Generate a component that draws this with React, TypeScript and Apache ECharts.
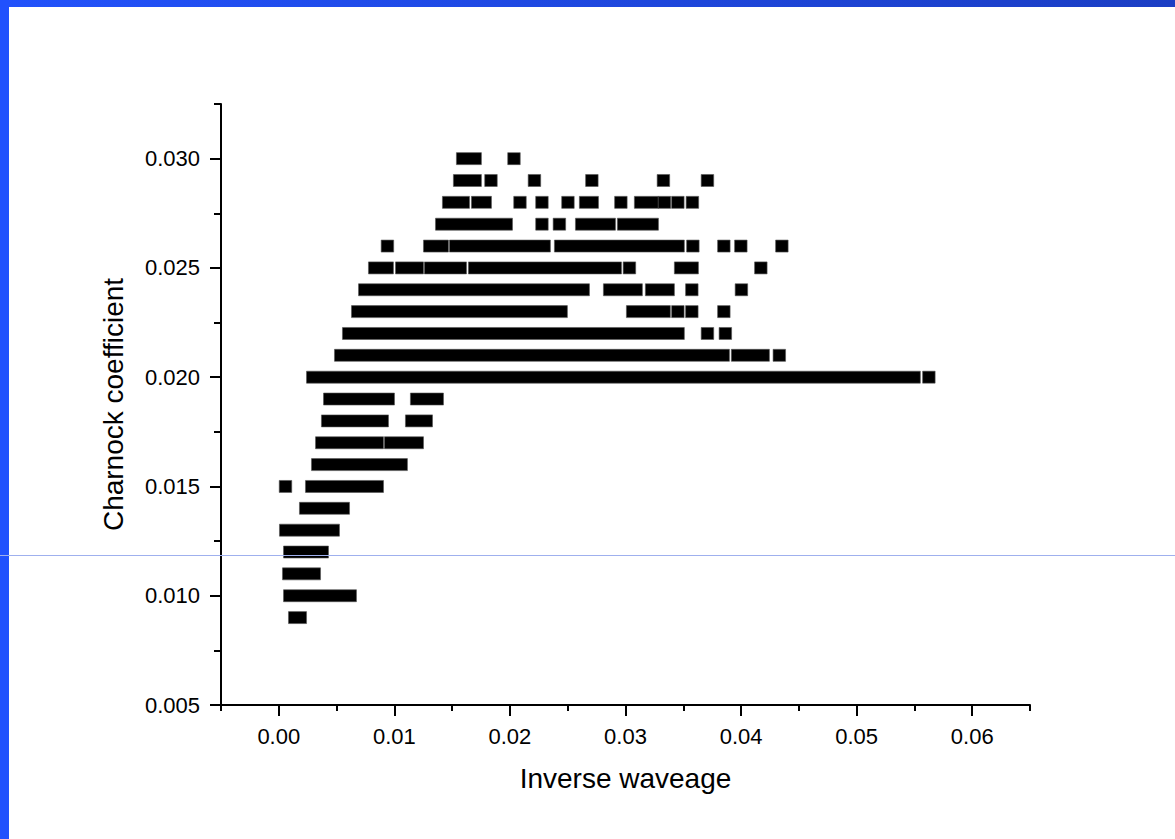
import React, { useEffect, useRef } from "react";
import * as echarts from "echarts";

// Each run: [charnock level, first square centre (inverse waveage), last square centre]
// A run is a stack of overlapping square markers on one Charnock level.
const runs: [number, number, number][] = [
  [0.030, 0.01591, 0.01699],
  [0.030, 0.02035, 0.02035],

  [0.029, 0.01565, 0.01699],
  [0.029, 0.01836, 0.01836],
  [0.029, 0.02212, 0.02212],
  [0.029, 0.02709, 0.02709],
  [0.029, 0.03328, 0.03328],
  [0.029, 0.03709, 0.03709],

  [0.028, 0.01470, 0.01596],
  [0.028, 0.01721, 0.01786],
  [0.028, 0.02087, 0.02087],
  [0.028, 0.02277, 0.02277],
  [0.028, 0.02502, 0.02502],
  [0.028, 0.02655, 0.02712],
  [0.028, 0.02960, 0.02960],
  [0.028, 0.03131, 0.03231],
  [0.028, 0.03337, 0.03337],
  [0.028, 0.03453, 0.03453],
  [0.028, 0.03579, 0.03579],

  [0.027, 0.01410, 0.01968],
  [0.027, 0.02277, 0.02277],
  [0.027, 0.02428, 0.02428],
  [0.027, 0.02621, 0.02859],
  [0.027, 0.02984, 0.03231],

  [0.026, 0.00940, 0.00940],
  [0.026, 0.01306, 0.01414],
  [0.026, 0.01531, 0.02296],
  [0.026, 0.02439, 0.03455],
  [0.026, 0.03583, 0.03583],
  [0.026, 0.03851, 0.03851],
  [0.026, 0.03998, 0.03998],
  [0.026, 0.04353, 0.04353],

  [0.025, 0.00830, 0.00938],
  [0.025, 0.01064, 0.01198],
  [0.025, 0.01314, 0.01570],
  [0.025, 0.01695, 0.02911],
  [0.025, 0.03034, 0.03034],
  [0.025, 0.03477, 0.03577],
  [0.025, 0.04171, 0.04171],

  [0.024, 0.00744, 0.02634],
  [0.024, 0.02863, 0.03092],
  [0.024, 0.03226, 0.03369],
  [0.024, 0.03574, 0.03574],
  [0.024, 0.04003, 0.04003],

  [0.023, 0.00683, 0.02443],
  [0.023, 0.03062, 0.03334],
  [0.023, 0.03453, 0.03453],
  [0.023, 0.03574, 0.03574],
  [0.023, 0.03851, 0.03851],

  [0.022, 0.00605, 0.03455],
  [0.022, 0.03709, 0.03709],
  [0.022, 0.03864, 0.03864],

  [0.021, 0.00536, 0.03845],
  [0.021, 0.03970, 0.04191],
  [0.021, 0.04331, 0.04331],

  [0.020, 0.00294, 0.05497],
  [0.020, 0.05625, 0.05625],

  [0.019, 0.00441, 0.00947],
  [0.019, 0.01193, 0.01371],

  [0.018, 0.00423, 0.00895],
  [0.018, 0.01150, 0.01276],

  [0.017, 0.00372, 0.00852],
  [0.017, 0.00968, 0.01198],

  [0.016, 0.00337, 0.01059],

  [0.015, 0.00058, 0.00058],
  [0.015, 0.00285, 0.00852],

  [0.014, 0.00233, 0.00558],

  [0.013, 0.00060, 0.00471],

  [0.012, 0.00095, 0.00376],

  [0.011, 0.00086, 0.00307],

  [0.010, 0.00095, 0.00618],

  [0.009, 0.00138, 0.00186],
];

const xMajorTicks = [0.0, 0.01, 0.02, 0.03, 0.04, 0.05, 0.06];
const xMinorTicks = [-0.005, 0.005, 0.015, 0.025, 0.035, 0.045, 0.055, 0.065];
const yMajorTicks = [0.005, 0.01, 0.015, 0.02, 0.025, 0.03];
const yMinorTicks = [0.0075, 0.0125, 0.0175, 0.0225, 0.0275, 0.0325];

const X_MIN = -0.005;
const X_MAX = 0.065;
const Y_MIN = 0.005;
const Y_MAX = 0.0325;

const xTitle = "Inverse waveage";
const yTitle = "Charnock coefficient";

const FONT = "'Liberation Sans', Arial, Helvetica, sans-serif";

export default function App() {
  const ref = useRef<HTMLDivElement>(null);

  useEffect(() => {
    if (!ref.current) return;
    const chart = echarts.init(ref.current, undefined, { renderer: "svg" });

    const axisLine = { show: true, onZero: false, lineStyle: { color: "#000", width: 2 } };

    chart.setOption({
      animation: false,
      backgroundColor: "#ffffff",
      grid: { left: 221, right: 145, top: 104, bottom: 134, containLabel: false },
      xAxis: [
        {
          type: "value",
          min: X_MIN,
          max: X_MAX,
          position: "bottom",
          axisLine,
          splitLine: { show: false },
          axisTick: {
            show: true,
            inside: false,
            length: 11,
            customValues: xMajorTicks,
            lineStyle: { color: "#000", width: 2 },
          },
          axisLabel: {
            show: true,
            customValues: xMajorTicks,
            formatter: (v: number) => v.toFixed(2),
            color: "#000",
            fontSize: 22,
            fontFamily: FONT,
            margin: 20,
          },
          name: xTitle,
          nameLocation: "middle",
          nameGap: 59,
          nameTextStyle: { color: "#000", fontSize: 28, fontFamily: FONT },
        },
        {
          type: "value",
          min: X_MIN,
          max: X_MAX,
          position: "bottom",
          axisLine: { show: false, onZero: false },
          splitLine: { show: false },
          axisTick: {
            show: true,
            length: 6,
            customValues: xMinorTicks,
            lineStyle: { color: "#000", width: 2 },
          },
          axisLabel: { show: false },
        },
      ],
      yAxis: [
        {
          type: "value",
          min: Y_MIN,
          max: Y_MAX,
          position: "left",
          axisLine,
          splitLine: { show: false },
          axisTick: {
            show: true,
            length: 11,
            customValues: yMajorTicks,
            lineStyle: { color: "#000", width: 2 },
          },
          axisLabel: {
            show: true,
            customValues: yMajorTicks,
            formatter: (v: number) => v.toFixed(3),
            color: "#000",
            fontSize: 22,
            fontFamily: FONT,
            margin: 21,
          },
          name: yTitle,
          nameLocation: "middle",
          nameGap: 94,
          nameRotate: 90,
          nameTextStyle: { color: "#000", fontSize: 28, fontFamily: FONT },
        },
        {
          type: "value",
          min: Y_MIN,
          max: Y_MAX,
          position: "left",
          axisLine: { show: false, onZero: false },
          splitLine: { show: false },
          axisTick: {
            show: true,
            length: 7,
            customValues: yMinorTicks,
            lineStyle: { color: "#000", width: 2 },
          },
          axisLabel: { show: false },
        },
      ],
      series: [
        {
          type: "custom",
          name: "Charnock",
          xAxisIndex: 0,
          yAxisIndex: 0,
          clip: false,
          encode: { x: [1, 2], y: 0 },
          data: runs,
          renderItem: (_params: any, api: any) => {
            const y = api.value(0);
            const p0 = api.coord([api.value(1), y]);
            const p1 = api.coord([api.value(2), y]);
            const half = 6.25;
            const h = 12;
            return {
              type: "rect",
              shape: {
                x: p0[0] - half,
                y: p0[1] - h / 2,
                width: p1[0] - p0[0] + 2 * half,
                height: h,
              },
              style: { fill: "#000", stroke: "#555", lineWidth: 0.6 },
            };
          },
        },
      ],
      graphic: [
        {
          type: "rect",
          left: 0,
          top: 0,
          shape: { x: 0, y: 0, width: 1175, height: 7 },
          style: {
            fill: new echarts.graphic.LinearGradient(0, 0, 1, 0, [
              { offset: 0, color: "#2252fb" },
              { offset: 1, color: "#1b3ec4" },
            ]),
          },
          z: 100,
        },
        {
          type: "rect",
          left: 0,
          top: 0,
          shape: { x: 0, y: 0, width: 9, height: 839 },
          style: { fill: "#2151fd" },
          z: 101,
        },
        {
          type: "line",
          shape: { x1: 0, y1: 555.5, x2: 1175, y2: 555.5 },
          style: { stroke: "#9fb0ee", lineWidth: 1 },
          z: 102,
        },
      ],
    });

    return () => chart.dispose();
  }, []);

  return (
    <div
      ref={ref}
      style={{
        position: "fixed",
        left: 0,
        top: 0,
        width: 1175,
        height: 839,
        background: "#fff",
      }}
    />
  );
}
